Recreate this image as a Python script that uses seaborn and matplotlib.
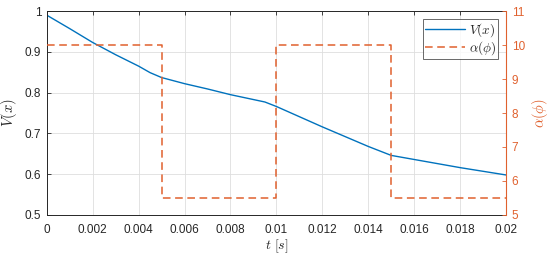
import matplotlib
matplotlib.use("Agg")
import matplotlib.pyplot as plt
import seaborn as sns
import pandas as pd

t_v = [0.000, 0.001, 0.002, 0.003, 0.004, 0.0045, 0.005, 0.006, 0.007, 0.008,
       0.009, 0.0095, 0.010, 0.011, 0.012, 0.013, 0.014, 0.015, 0.016, 0.017,
       0.018, 0.019, 0.020]
V = [0.990, 0.957, 0.923, 0.893, 0.865, 0.849, 0.837, 0.822, 0.809, 0.795,
     0.783, 0.777, 0.766, 0.741, 0.716, 0.692, 0.668, 0.646, 0.636, 0.626,
     0.616, 0.607, 0.598]
t_a = [0.000, 0.005, 0.010, 0.015, 0.020]
alpha = [10.0, 5.5, 10.0, 5.5, 5.5]

xticks = [0, 0.002, 0.004, 0.006, 0.008, 0.01, 0.012, 0.014, 0.016, 0.018, 0.02]
xtick_labels = ["0", "0.002", "0.004", "0.006", "0.008", "0.01", "0.012",
                "0.014", "0.016", "0.018", "0.02"]
yticks_l = [0.5, 0.6, 0.7, 0.8, 0.9, 1.0]
ytick_labels_l = ["0.5", "0.6", "0.7", "0.8", "0.9", "1"]
yticks_r = [5, 6, 7, 8, 9, 10, 11]

blue = "#0072BD"
orange = "#E0612E"
axcol = "#262626"

sns.set_theme(style="white")
plt.rcParams["font.family"] = ["Liberation Sans", "DejaVu Sans"]
plt.rcParams["mathtext.fontset"] = "cm"
plt.rcParams["font.size"] = 8.5

df_v = pd.DataFrame({"t": t_v, "V": V})
df_a = pd.DataFrame({"t": t_a, "alpha": alpha})

fig = plt.figure(figsize=(5.5, 2.58), dpi=100)
ax = fig.add_axes([0.085, 0.167, 0.835, 0.79])
ax2 = ax.twinx()

sns.lineplot(data=df_v, x="t", y="V", ax=ax, color=blue, linewidth=1.0,
             label=r"$V(x)$", legend=False)
sns.lineplot(data=df_a, x="t", y="alpha", ax=ax2, color=orange, linewidth=1.1,
             linestyle=(0, (5, 3)), drawstyle="steps-post",
             label=r"$\alpha(\phi)$", legend=False)

ax.set_xlim(0, 0.02)
ax.set_ylim(0.5, 1.0)
ax2.set_ylim(5, 11)
ax.set_xticks(xticks)
ax.set_xticklabels(xtick_labels)
ax.set_yticks(yticks_l)
ax.set_yticklabels(ytick_labels_l)
ax2.set_yticks(yticks_r)

ax.grid(True, color="#dedede", linewidth=0.6)
ax.set_axisbelow(True)

ax.tick_params(axis="both", direction="in", length=3, width=0.6, colors=axcol,
               labelsize=8.5, top=True, pad=4)
ax.tick_params(axis="x", pad=6.5)
ax.tick_params(axis="y", right=False)
ax2.tick_params(axis="y", direction="in", length=3, width=0.6, colors=orange,
                labelsize=8.5, pad=4)

for s in ["left", "top", "bottom"]:
    ax.spines[s].set_color(axcol)
    ax.spines[s].set_linewidth(0.7)
ax2.spines["right"].set_color(orange)
ax2.spines["right"].set_linewidth(0.8)
for s in ["left", "top", "bottom"]:
    ax2.spines[s].set_visible(False)
ax.spines["right"].set_visible(False)

ax.set_xlabel(r"$t\ [s]$", fontsize=10, color=axcol, labelpad=1)
ax.set_ylabel(r"$V(x)$", fontsize=10.5, color=axcol, labelpad=4)
ax2.set_ylabel(r"$\alpha(\phi)$", fontsize=10.5, color=orange, labelpad=4)

h1, l1 = ax.get_legend_handles_labels()
h2, l2 = ax2.get_legend_handles_labels()
leg = ax2.legend(h1 + h2, l1 + l2, loc="upper right", fontsize=9.5,
                 frameon=True, fancybox=False, edgecolor=axcol,
                 borderpad=0.15, labelspacing=0.0, handlelength=3.0,
                 handletextpad=0.3, borderaxespad=0.6)
leg.get_frame().set_linewidth(0.6)

fig.savefig("out.png", dpi=100)
